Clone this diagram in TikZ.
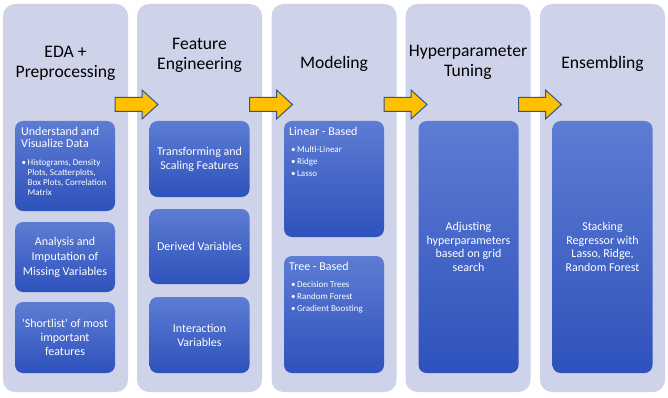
\documentclass[tikz,border=0pt]{standalone}
\usepackage{fontspec}
\setmainfont{Carlito}
\usetikzlibrary{calc, positioning}

\definecolor{laneblue}{HTML}{CFD3EA}
\definecolor{boxtop}{HTML}{5D7CD3}
\definecolor{boxbottom}{HTML}{2E52BC}
\definecolor{arrowyellow}{HTML}{FFC000}
\definecolor{arrowedge}{HTML}{2F5597}

% bullet and the indent of a wrapped bullet line
\newcommand{\bul}[1][6pt]{\makebox[#1][l]{\textbullet}}
\newcommand{\bulind}{\hspace*{6pt}}

\begin{document}
\begin{tikzpicture}[x=1pt, y=-1pt,
    lane/.style={fill=laneblue, rounded corners=12pt, minimum width=125pt,
      minimum height=388pt, inner sep=0pt},
    stagetitle/.style={font=\fontsize{17.6}{20}\selectfont, align=center,
      inner sep=0pt, anchor=base},
    task/.style={top color=boxtop, bottom color=boxbottom, rounded corners=8pt,
      minimum width=100pt, inner sep=0pt, text=white, align=center,
      font=\fontsize{12}{14}\selectfont},
    boxhead/.style={text=white, font=\fontsize{12}{12.3}\selectfont,
      align=left, inner sep=0pt, anchor=base west},
    bullets/.style={text=white, font=\fontsize{9}{11.7}\selectfont,
      align=left, inner sep=0pt, anchor=base west},
    bigarrow/.style={fill=arrowyellow, draw=arrowedge, line width=1pt}]
        \fill[white] (0,0) rectangle (668,398);
        \useasboundingbox (0,0) rectangle (668,398);

        % the five lanes
        \node[lane] (eda) at (65.5,198) {};
        \node[lane] (feature) at (199.5,198) {};
        \node[lane] (modeling) at (334,198) {};
        \node[lane] (tuning) at (468,198) {};
        \node[lane] (ensembling) at (602.5,198) {};

        % the lane titles (placed at the last baseline)
        \node[stagetitle] (edatitle) at (65.5,78) {EDA +\\Preprocessing};
        \node[stagetitle] (featuretitle) at (199.5,70) {Feature\\Engineering};
        \node[stagetitle] (modelingtitle) at (334,69) {Modeling};
        \node[stagetitle] (tuningtitle) at (468,77) {Hyperparameter\\Tuning};
        \node[stagetitle] (ensemblingtitle) at (602.5,69) {Ensembling};

        % the yellow arrows across the gaps
        \foreach \s in {115,249.5,384,518.5}
          \draw[bigarrow] (\s,97.5) -- ++(27,0) -- ++(0,-7.5) -- ++(16,14.5)
            -- ++(-16,14.5) -- ++(0,-7.5) -- ++(-27,0) -- cycle;

        % EDA boxes
        \node[task, minimum height=90pt] (understand) at (65,166) {};
        \node[boxhead] (understandhead) at (21,148) {Understand and\\Visualize Data};
        \node[bullets, font=\fontsize{9}{9.8}\selectfont] (understanditems) at (21.5,195)
          {\bul Histograms, Density\\\bulind Plots, Scatterplots,\\
           \bulind Box Plots, Correlation\\\bulind Matrix};
        \node[task, minimum height=70pt, font=\fontsize{12}{15}\selectfont] (analysis)
          at (65,257) {Analysis and\\Imputation of\\Missing Variables};
        \node[task, minimum height=71pt] (shortlist) at (65,337.5)
          {\textquotesingle Shortlist\textquotesingle{} of most\\important\\features};

        % feature engineering boxes
        \node[task, minimum height=76pt] (transform) at (199.5,159)
          {Transforming and\\Scaling Features};
        \node[task, minimum height=75pt] (derived) at (199.5,246.5) {Derived Variables};
        \node[task, minimum height=76pt] (interaction) at (199.5,335)
          {Interaction\\Variables};

        % model boxes
        \node[task, minimum height=116pt] (linear) at (334,179) {};
        \node[boxhead] (linearhead) at (289,136) {Linear - Based};
        \node[bullets] (linearitems) at (291,176)
          {\bul Multi-Linear\\\bul Ridge\\\bul Lasso};
        \node[task, minimum height=117pt] (tree) at (334,314.5) {};
        \node[boxhead] (treehead) at (289,270) {Tree - Based};
        \node[bullets] (treeitems) at (291,311)
          {\bul Decision Trees\\\bul Random Forest\\\bul Gradient Boosting};

        % tuning and ensembling boxes
        \node[task, minimum height=252pt, font=\fontsize{12}{13.5}\selectfont] (gridsearch)
          at (468.5,247) {Adjusting\\hyperparameters\\based on grid\\search};
        \node[task, minimum height=252pt, font=\fontsize{12}{13.5}\selectfont] (stacking)
          at (602.5,247) {Stacking\\Regressor with\\Lasso, Ridge,\\Random Forest};
\end{tikzpicture}
\end{document}
